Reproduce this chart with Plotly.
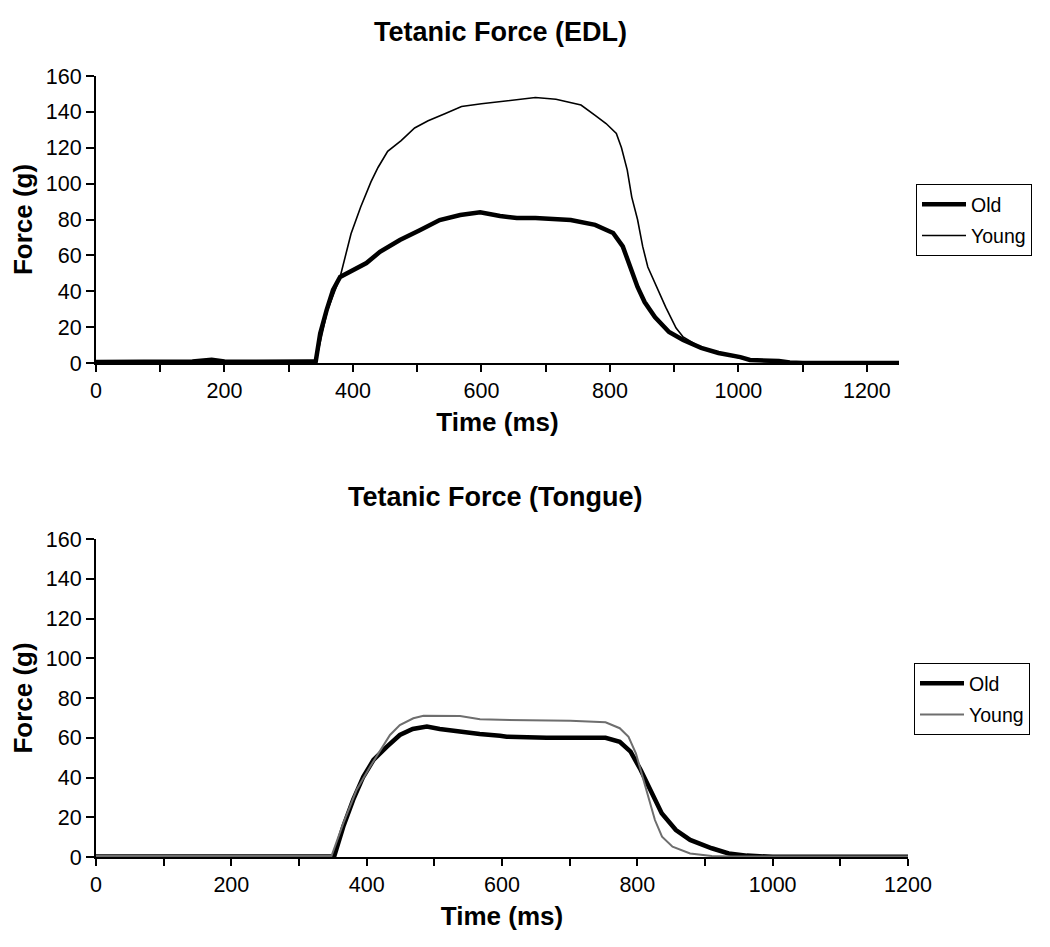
import plotly.graph_objects as go

# ---------------- data ----------------
# Top panel: Tetanic Force (EDL)
edl_old_t = [0, 50, 100, 150, 180, 200, 250, 300, 330, 342, 349, 359, 369, 380, 400, 421, 442,
             473, 504, 535, 567, 598, 629, 655, 684, 739, 777, 805, 820, 831, 843, 854, 870,
             892, 914, 942, 969, 1003, 1018, 1063, 1080, 1100, 1250]
edl_old_f = [0.6, 0.8, 0.7, 0.9, 1.8, 0.8, 0.7, 0.4, 0.8, 0.8, 16.5, 29.5, 40.7, 48, 51.8, 55.7, 62,
             68.6, 74, 79.7, 82.5, 84, 82, 80.8, 80.8, 79.7, 77, 72.5, 65, 53.5, 42.4, 34, 25.6,
             17.3, 12.8, 8.4, 5.6, 3.3, 1.7, 1.1, 0.3, 0, 0]

edl_young_t = [0, 100, 200, 300, 342, 360, 380, 397, 412, 428, 439, 454, 475, 496, 517, 543, 569,
               600, 629, 651, 684, 716, 755, 777, 794, 810, 818, 827, 834, 843, 851, 859, 870,
               887, 903, 914, 940, 970, 1000, 1030, 1060, 1250]
edl_young_f = [0.5, 0.5, 0.5, 0.5, 0.5, 29, 48, 72, 87, 101, 109, 118, 124, 131, 135, 139, 143,
               144.5, 145.7, 147, 148, 147, 143.8, 138, 133.5, 128, 120, 107.5, 92.5, 80, 65, 53.5, 44.6,
               31, 19.5, 14.5, 9, 5.5, 3, 1.2, 0.3, 0]

# Bottom panel: Tetanic Force (Tongue)
tng_old_t = [0, 200, 350, 352, 365.5, 380, 395, 410, 430, 449, 468, 489, 508, 538, 567, 597, 607,
             666, 675, 753, 774, 790, 805, 821, 836, 857, 878, 910, 935, 962, 1000, 1200]
tng_old_f = [0.3, 0.3, 0.3, 0.3, 15.3, 28.7, 40.4, 48.8, 55.5, 61.4, 64.4, 65.6, 64.4, 63, 61.9, 61, 60.5,
             60, 60, 60, 58, 53, 43.8, 32, 22, 13.6, 8.6, 4.4, 1.8, 0.7, 0.1, 0.1]

tng_young_t = [0, 200, 348, 365.5, 385, 405, 420, 434.5, 449, 469, 484, 538, 567.5, 597, 701, 753,
               774, 787, 798, 808, 816, 826, 836.5, 852, 878, 910, 940, 1200]
tng_young_f = [0.5, 0.5, 0.5, 17, 33.7, 45.4, 53.8, 61.4, 66.4, 69.8, 71.1, 71, 69.3, 69, 68.6, 67.8,
               64.8, 60.5, 52, 40.4, 30.3, 18.6, 10.2, 5.2, 1.8, 0.5, 0.2, 0.2]

titles = ["Tetanic Force (EDL)", "Tetanic Force (Tongue)"]
series_names = ["Old", "Young"]
x_label = "Time (ms)"
y_label = "Force (g)"

# ---------------- figure ----------------
# The page body has an 8px default margin, so the figure is 16px smaller than the window
OFF = 8
W, H = 1050 - 2 * OFF, 947 - 2 * OFF
FONT = "Arial, Liberation Sans, Helvetica, sans-serif"

fig = go.Figure()

fig.add_trace(go.Scatter(x=edl_old_t, y=edl_old_f, mode="lines", name=series_names[0],
                         line=dict(color="black", width=4.5), xaxis="x", yaxis="y",
                         legend="legend", legendgroup="a"))
fig.add_trace(go.Scatter(x=edl_young_t, y=edl_young_f, mode="lines", name=series_names[1],
                         line=dict(color="black", width=1.6), xaxis="x", yaxis="y",
                         legend="legend", legendgroup="b"))
fig.add_trace(go.Scatter(x=tng_old_t, y=tng_old_f, mode="lines", name=series_names[0],
                         line=dict(color="black", width=4.5), xaxis="x2", yaxis="y2",
                         legend="legend2", legendgroup="c"))
fig.add_trace(go.Scatter(x=tng_young_t, y=tng_young_f, mode="lines", name=series_names[1],
                         line=dict(color="#6e6e6e", width=2), xaxis="x2", yaxis="y2",
                         legend="legend2", legendgroup="d"))


def px_x(p):
    return (p - OFF) / W


def px_y(p):
    return 1 - (p - OFF) / H


def xdom(a, b):
    return [px_x(a), px_x(b)]


def ydom(top, bottom):
    return [px_y(bottom), px_y(top)]


tickfont = dict(family=FONT, size=21.5, color="black")
axtitlefont = dict(family=FONT, size=26, color="black")
titlefont = dict(family=FONT, size=27, color="black")

common_x = dict(showline=True, linecolor="black", linewidth=2, ticks="outside", ticklen=7,
                tickwidth=2, tickcolor="black", tick0=0, dtick=200, showgrid=False, zeroline=False,
                tickfont=tickfont, automargin=False,
                minor=dict(dtick=100, ticks="outside", ticklen=7, tickwidth=2, tickcolor="black",
                           showgrid=False),
                title=dict(text="<b>" + x_label + "</b>", font=axtitlefont, standoff=11))
common_y = dict(showline=True, linecolor="black", linewidth=2, ticks="outside", ticklen=8,
                tickwidth=2, tickcolor="black", tick0=0, dtick=20, range=[0, 160], showgrid=False,
                zeroline=False, tickfont=tickfont, automargin=False,
                title=dict(text="<b>" + y_label + "</b>", font=axtitlefont, standoff=8))

legend_common = dict(bordercolor="black", borderwidth=1, bgcolor="white",
                     font=dict(family=FONT, size=19.5, color="black"),
                     xanchor="left", yanchor="top", traceorder="grouped", tracegroupgap=3,
                     itemwidth=44, entrywidth=70)

fig.update_layout(
    width=W, height=H,
    margin=dict(l=0, r=0, t=0, b=0, autoexpand=False),
    paper_bgcolor="white", plot_bgcolor="white",
    font=dict(family=FONT, color="black"),
    xaxis=dict(common_x, domain=xdom(96, 899), range=[0, 1250], anchor="y"),
    yaxis=dict(common_y, domain=ydom(76, 363), anchor="x"),
    xaxis2=dict(common_x, domain=xdom(96, 908), range=[0, 1200], anchor="y2"),
    yaxis2=dict(common_y, domain=ydom(539, 857), anchor="x2"),
    legend=dict(legend_common, x=px_x(916), y=px_y(184)),
    legend2=dict(legend_common, x=px_x(914), y=px_y(663)),
    annotations=[
        dict(text="<b>" + titles[0] + "</b>", x=px_x(500), y=px_y(32), xref="paper", yref="paper",
             xanchor="center", yanchor="middle", showarrow=False, font=titlefont),
        dict(text="<b>" + titles[1] + "</b>", x=px_x(495), y=px_y(497), xref="paper", yref="paper",
             xanchor="center", yanchor="middle", showarrow=False, font=titlefont),
    ],
    showlegend=True,
)

fig.write_html("out.html")
